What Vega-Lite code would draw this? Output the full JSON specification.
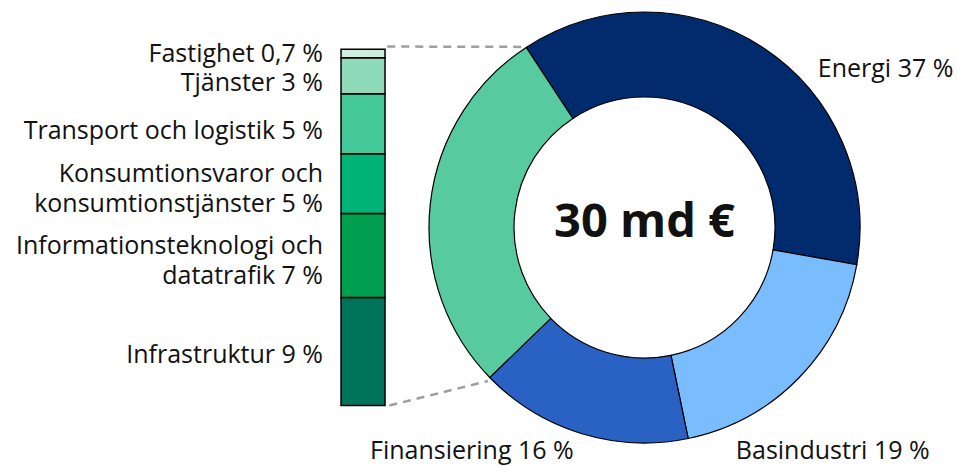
{
  "$schema": "https://vega.github.io/schema/vega-lite/v6.json",
  "width": 431,
  "height": 431,
  "autosize": {"type": "none"},
  "padding": {"left": 429, "top": 12, "right": 98, "bottom": 23},
  "background": "white",
  "config": {"view": {"stroke": null}, "text": {"font": "Open Sans", "color": "#111111"}},
  "datasets": {
    "donut": [
      {"sektor": "Energi", "andel": 37, "ordning": 1, "etikett": "Energi 37 %"},
      {"sektor": "Basindustri", "andel": 19, "ordning": 2, "etikett": "Basindustri 19 %"},
      {"sektor": "Finansiering", "andel": 16, "ordning": 3, "etikett": "Finansiering 16 %"},
      {"sektor": "Övriga", "andel": 28, "ordning": 4, "etikett": ""}
    ],
    "stapel": [
      {"sektor": "Infrastruktur", "andel": 9, "ordning": 1, "etikett": "Infrastruktur 9 %"},
      {"sektor": "Informationsteknologi och datatrafik", "andel": 7, "ordning": 2, "etikett": "Informationsteknologi och\ndatatrafik 7 %"},
      {"sektor": "Konsumtionsvaror och konsumtionstjänster", "andel": 5, "ordning": 3, "etikett": "Konsumtionsvaror och\nkonsumtionstjänster 5 %"},
      {"sektor": "Transport och logistik", "andel": 5, "ordning": 4, "etikett": "Transport och logistik 5 %"},
      {"sektor": "Tjänster", "andel": 3, "ordning": 5, "etikett": "Tjänster 3 %"},
      {"sektor": "Fastighet", "andel": 0.7, "ordning": 6, "etikett": "Fastighet 0,7 %"}
    ],
    "summa": [{"text": "30 md €"}]
  },
  "layer": [
    {
      "data": {"name": "summa"},
      "mark": {"type": "rule", "stroke": "#9e9e9e", "strokeWidth": 2.5, "strokeDash": [8, 6]},
      "encoding": {
        "x": {"datum": -0.95, "type": "quantitative", "scale": {"domain": [0, 9.8], "nice": false, "zero": false}, "axis": null},
        "y": {"datum": 29.93, "type": "quantitative", "scale": {"domain": [-3.127, 32.81], "nice": false, "zero": false}, "axis": null},
        "x2": {"datum": 2.205},
        "y2": {"datum": 29.9}
      }
    },
    {
      "data": {"name": "summa"},
      "mark": {"type": "rule", "stroke": "#9e9e9e", "strokeWidth": 2.5, "strokeDash": [8, 6]},
      "encoding": {
        "x": {"datum": -0.9, "type": "quantitative", "scale": {"domain": [0, 9.8], "nice": false, "zero": false}, "axis": null},
        "y": {"datum": 0, "type": "quantitative", "scale": {"domain": [-3.127, 32.81], "nice": false, "zero": false}, "axis": null},
        "x2": {"datum": 1.341},
        "y2": {"datum": 2.04}
      }
    },
    {
      "data": {"name": "stapel"},
      "transform": [{"stack": "andel", "groupby": [], "sort": [{"field": "ordning", "order": "ascending"}], "as": ["y0", "y1"]}],
      "mark": {"type": "bar", "stroke": "#000000", "strokeWidth": 1.5},
      "encoding": {
        "x": {"datum": -2, "type": "quantitative", "scale": {"domain": [0, 9.8], "nice": false, "zero": false}, "axis": null},
        "x2": {"datum": -1},
        "y": {"field": "y0", "type": "quantitative", "scale": {"domain": [-3.127, 32.81], "nice": false, "zero": false}, "axis": null},
        "y2": {"field": "y1"},
        "color": {"field": "sektor", "type": "nominal", "legend": null,
          "scale": {
            "domain": ["Energi", "Basindustri", "Finansiering", "Övriga", "Infrastruktur", "Informationsteknologi och datatrafik", "Konsumtionsvaror och konsumtionstjänster", "Transport och logistik", "Tjänster", "Fastighet"],
            "range": ["#012b6c", "#7abdff", "#2962c3", "#57cb9f", "#00745b", "#009e4f", "#00b477", "#44c799", "#8fdbb9", "#cdeede"]
          }}
      }
    },
    {
      "data": {"name": "stapel"},
      "mark": {"type": "text", "align": "right", "baseline": "middle", "fontSize": 25, "dx": -18, "dy": 3.7},
      "encoding": {
        "x": {"datum": -2, "type": "quantitative", "scale": {"domain": [0, 9.8], "nice": false, "zero": false}, "axis": null},
        "y": {"field": "andel", "type": "quantitative", "stack": "zero", "bandPosition": 0.5, "scale": {"domain": [-3.127, 32.81], "nice": false, "zero": false}, "axis": null},
        "order": {"field": "ordning", "type": "quantitative"},
        "detail": {"field": "sektor", "type": "nominal"},
        "text": {"condition": {"test": "datum.sektor === 'Infrastruktur'", "field": "etikett", "type": "nominal"}, "value": ""}
      }
    },
    {
      "data": {"name": "stapel"},
      "mark": {"type": "text", "align": "right", "baseline": "middle", "fontSize": 25, "dx": -18, "dy": 0.5},
      "encoding": {
        "x": {"datum": -2, "type": "quantitative", "scale": {"domain": [0, 9.8], "nice": false, "zero": false}, "axis": null},
        "y": {"field": "andel", "type": "quantitative", "stack": "zero", "bandPosition": 0.5, "scale": {"domain": [-3.127, 32.81], "nice": false, "zero": false}, "axis": null},
        "order": {"field": "ordning", "type": "quantitative"},
        "detail": {"field": "sektor", "type": "nominal"},
        "text": {"condition": {"test": "datum.sektor === 'Fastighet'", "field": "etikett", "type": "nominal"}, "value": ""}
      }
    },
    {
      "data": {"name": "stapel"},
      "mark": {"type": "text", "align": "right", "baseline": "middle", "fontSize": 25, "dx": -18, "dy": 7.5},
      "encoding": {
        "x": {"datum": -2, "type": "quantitative", "scale": {"domain": [0, 9.8], "nice": false, "zero": false}, "axis": null},
        "y": {"field": "andel", "type": "quantitative", "stack": "zero", "bandPosition": 0.5, "scale": {"domain": [-3.127, 32.81], "nice": false, "zero": false}, "axis": null},
        "order": {"field": "ordning", "type": "quantitative"},
        "detail": {"field": "sektor", "type": "nominal"},
        "text": {"condition": {"test": "datum.sektor === 'Transport och logistik' || datum.sektor === 'Tjänster'", "field": "etikett", "type": "nominal"}, "value": ""}
      }
    },
    {
      "data": {"name": "stapel"},
      "mark": {"type": "text", "align": "right", "baseline": "middle", "fontSize": 25, "lineBreak": "\n", "lineHeight": 30, "dx": -18, "dy": -10},
      "encoding": {
        "x": {"datum": -2, "type": "quantitative", "scale": {"domain": [0, 9.8], "nice": false, "zero": false}, "axis": null},
        "y": {"field": "andel", "type": "quantitative", "stack": "zero", "bandPosition": 0.5, "scale": {"domain": [-3.127, 32.81], "nice": false, "zero": false}, "axis": null},
        "order": {"field": "ordning", "type": "quantitative"},
        "detail": {"field": "sektor", "type": "nominal"},
        "text": {"condition": {"test": "datum.sektor === 'Informationsteknologi och datatrafik' || datum.sektor === 'Konsumtionsvaror och konsumtionstjänster'", "field": "etikett", "type": "nominal"}, "value": ""}
      }
    },
    {
      "data": {"name": "donut"},
      "mark": {"type": "arc", "innerRadius": 130.5, "outerRadius": 215.5, "stroke": "#000000", "strokeWidth": 1.2},
      "encoding": {
        "theta": {"field": "andel", "type": "quantitative", "stack": true, "scale": {"range": [-0.5812, 5.702]}},
        "order": {"field": "ordning", "type": "quantitative"},
        "color": {"field": "sektor", "type": "nominal", "legend": null}
      }
    },
    {
      "data": {"name": "summa"},
      "mark": {"type": "text", "align": "center", "baseline": "middle", "fontSize": 47, "fontWeight": "bold", "dy": -5},
      "encoding": {
        "text": {"field": "text", "type": "nominal"}
      }
    },
    {
      "data": {"name": "donut"},
      "transform": [{"filter": "datum.sektor === 'Energi'"}],
      "mark": {"type": "text", "align": "left", "baseline": "alphabetic", "fontSize": 25},
      "encoding": {
        "x": {"datum": 8.84, "type": "quantitative", "scale": {"domain": [0, 9.8], "nice": false, "zero": false}, "axis": null},
        "y": {"datum": 27.37, "type": "quantitative", "scale": {"domain": [-3.127, 32.81], "nice": false, "zero": false}, "axis": null},
        "text": {"field": "etikett", "type": "nominal"}
      }
    },
    {
      "data": {"name": "donut"},
      "transform": [{"filter": "datum.sektor === 'Basindustri'"}],
      "mark": {"type": "text", "align": "left", "baseline": "alphabetic", "fontSize": 25},
      "encoding": {
        "x": {"datum": 6.977, "type": "quantitative", "scale": {"domain": [0, 9.8], "nice": false, "zero": false}, "axis": null},
        "y": {"datum": -4.486, "type": "quantitative", "scale": {"domain": [-3.127, 32.81], "nice": false, "zero": false}, "axis": null},
        "text": {"field": "etikett", "type": "nominal"}
      }
    },
    {
      "data": {"name": "donut"},
      "transform": [{"filter": "datum.sektor === 'Finansiering'"}],
      "mark": {"type": "text", "align": "left", "baseline": "alphabetic", "fontSize": 25},
      "encoding": {
        "x": {"datum": -1.341, "type": "quantitative", "scale": {"domain": [0, 9.8], "nice": false, "zero": false}, "axis": null},
        "y": {"datum": -4.486, "type": "quantitative", "scale": {"domain": [-3.127, 32.81], "nice": false, "zero": false}, "axis": null},
        "text": {"field": "etikett", "type": "nominal"}
      }
    }
  ]
}
